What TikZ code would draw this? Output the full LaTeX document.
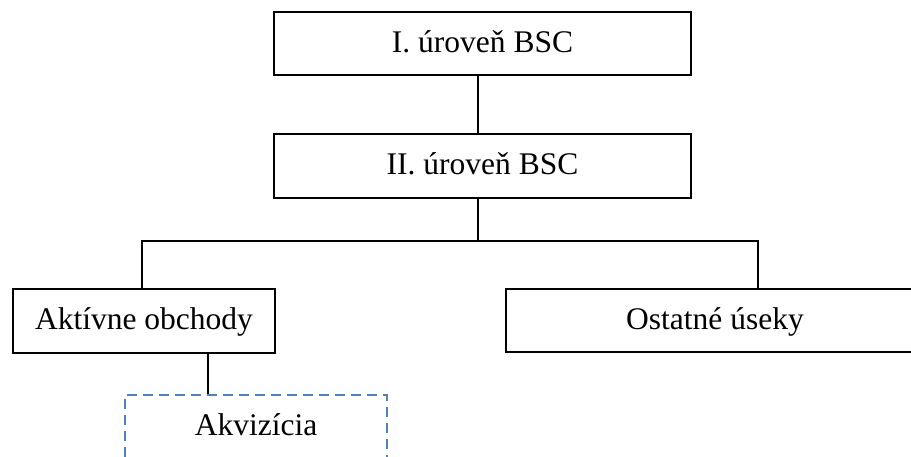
\documentclass[tikz,border=0pt]{standalone}
\usepackage{fontspec}
\setmainfont{Liberation Serif}
\begin{document}
\begin{tikzpicture}[x=1pt,y=-1pt,
  boxtext/.style={inner sep=0pt, font=\fontsize{31.5}{36}\selectfont,
    text height=23.6pt, text depth=6.3pt},
  unit/.style={boxtext, draw=black, line width=2pt},
  planned/.style={boxtext, draw={rgb,255:red,79;green,129;blue,189}, line width=2pt,
    dash pattern=on 10pt off 6pt},
  link/.style={draw=black, line width=1.8pt}]
\useasboundingbox (0,0) rectangle (911,457);
\clip (0,0) rectangle (911,457);

% organisational levels
\node[unit, minimum width=417pt, minimum height=63pt] (l1) at (482.5,43.5) {I. úroveň BSC};
\node[unit, minimum width=417pt, minimum height=64pt] (l2) at (482.5,166) {II. úroveň BSC};
\node[unit, minimum width=262pt, minimum height=64pt] (ao) at (144,321) {Aktívne obchody};
\node[unit, minimum width=418pt, minimum height=63pt] (ou) at (715,320.5) {Ostatné úseky};
\node[planned, minimum width=262pt, minimum height=64pt] (ak) at (256,427) {Akvizícia};

% branching points
\coordinate (leftdrop) at (142,241);
\coordinate (rightdrop) at (757.7,241);

\draw[link] (l1.south -| 477.7,0) -- (l2.north -| 477.7,0);
\draw[link] (l2.south -| 477.7,0) -- (477.7,241);
\draw[link] (ao.north -| leftdrop) -- (leftdrop) -- (rightdrop) -- (ou.north -| rightdrop);
\draw[link] (ao.south -| 207.7,0) -- (ak.north -| 207.7,0);
\end{tikzpicture}
\end{document}
